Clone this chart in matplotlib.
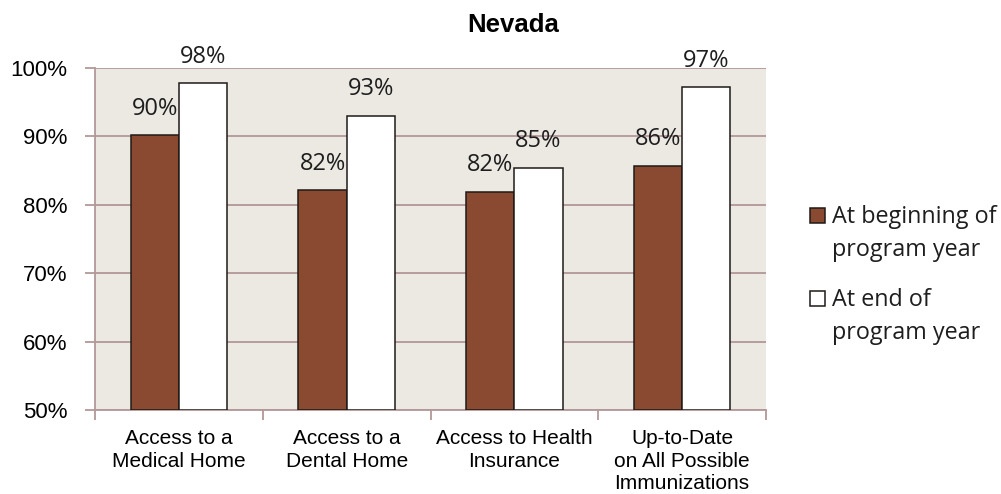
import numpy as np
import matplotlib.pyplot as plt
from matplotlib.patches import Rectangle

categories = ["Access to a\nMedical Home", "Access to a\nDental Home",
              "Access to Health\nInsurance", "Up-to-Date\non All Possible\nImmunizations"]
begin_vals = [90.2, 82.1, 81.9, 85.7]
end_vals = [97.8, 93.0, 85.4, 97.2]
begin_labels = ["90%", "82%", "82%", "86%"]
end_labels = ["98%", "93%", "85%", "97%"]
yticks = [50, 60, 70, 80, 90, 100]
series_names = ["At beginning of\nprogram year", "At end of\nprogram year"]

brown = "#8A4A31"
grid_c = "#B39898"
bg = "#ECE9E3"
edge = "#1e1a17"

W, H = 1001, 494
fig = plt.figure(figsize=(W/100, H/100), dpi=100)
ax = fig.add_axes([95/W, 1-410/H, (766-95)/W, (410-68)/H])
ax.set_facecolor(bg)

x = np.arange(len(categories))
w = 0.287
ax.bar(x - w/2, [v - 50 for v in begin_vals], w, bottom=50, color=brown,
       edgecolor=edge, linewidth=1.1, zorder=3)
ax.bar(x + w/2, [v - 50 for v in end_vals], w, bottom=50, color="white",
       edgecolor=edge, linewidth=1.1, zorder=3)

for i in range(len(x)):
    ax.annotate(begin_labels[i], (x[i] - w/2, begin_vals[i]), xytext=(0, 19),
                textcoords="offset points", ha="center", va="center",
                fontsize=17, family="Open Sans", color="#1e1e1e")
    ax.annotate(end_labels[i], (x[i] + w/2, end_vals[i]), xytext=(0, 19),
                textcoords="offset points", ha="center", va="center",
                fontsize=17, family="Open Sans", color="#1e1e1e")

ax.set_xlim(-0.5, len(x) - 0.5)
ax.set_ylim(50, 100)
ax.set_yticks(yticks)
ax.set_yticklabels([f"{t}%" for t in yticks], family="Liberation Sans", fontsize=16)
ax.yaxis.grid(True, color=grid_c, linewidth=1.3, zorder=0)
ax.set_axisbelow(True)

ax.set_xticks(x)
ax.set_xticklabels(categories, family="Liberation Sans", fontsize=15, linespacing=1.22)
ax.set_xticks(np.arange(-0.5, len(x), 1), minor=True)
ax.tick_params(axis="x", which="major", length=0, pad=14)
ax.tick_params(axis="x", which="minor", length=7, color=grid_c, width=1.3)
ax.tick_params(axis="y", length=7, color=grid_c, width=1.3, pad=13)

for s in ["top", "right"]:
    ax.spines[s].set_visible(False)
for s in ["left", "bottom"]:
    ax.spines[s].set_color(grid_c)
    ax.spines[s].set_linewidth(1.3)

fig.text(513/W, 1-25/H, "Nevada", ha="center", va="center",
         fontsize=18.5, fontweight="bold", family="Liberation Sans")

# legend drawn by hand so the square sits on the first text line
leg_y = [215, 298]
for name, face, yy in zip(series_names, [brown, "white"], leg_y):
    fig.patches.append(Rectangle((810/W, 1-(yy+8)/H), 15/W, 15/H, facecolor=face,
                                 edgecolor=edge, linewidth=1.1,
                                 transform=fig.transFigure, figure=fig))
    fig.text(832/W, 1-(yy-10)/H, name, ha="left", va="top", fontsize=16.8,
             family="Open Sans", color="#1e1e1e", linespacing=1.48)

fig.savefig("out.png", dpi=100)
